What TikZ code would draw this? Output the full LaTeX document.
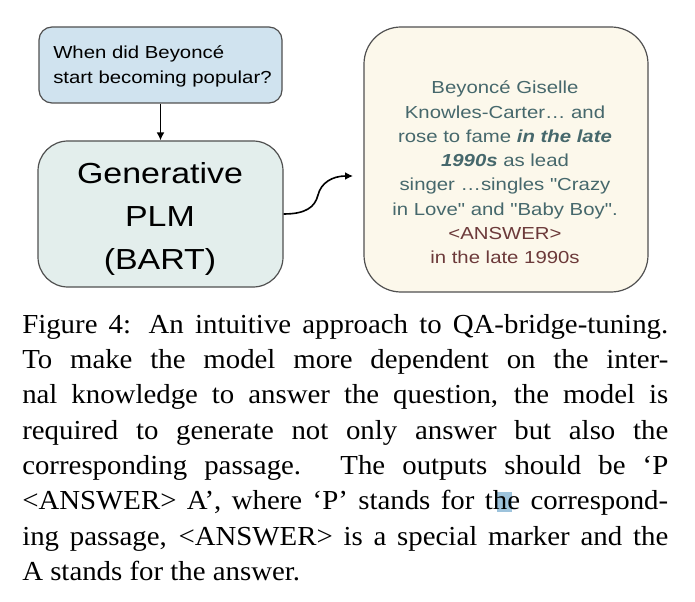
\documentclass[tikz,border=0pt]{standalone}
\usepackage{fontspec}
\setmainfont{Liberation Serif}
\newfontfamily\figfont[FakeStretch=1.17]{Liberation Sans}
\newfontfamily\capfont[FakeStretch=1.05]{Liberation Serif}
\usetikzlibrary{arrows.meta}
\newdimen\pxu \pxu=0.75pt
\definecolor{qfill}{RGB}{208,227,239}
\definecolor{gfill}{RGB}{227,238,236}
\definecolor{afill}{RGB}{252,248,235}
\definecolor{bordergray}{RGB}{80,80,80}
\definecolor{ateal}{RGB}{70,104,108}
\definecolor{abrown}{RGB}{108,58,58}
\definecolor{selblue}{RGB}{157,195,220}
\newcommand{\qfont}{\figfont\fontsize{13.05pt}{18.2pt}\selectfont}
\newcommand{\gfont}{\figfont\fontsize{21.75pt}{32.25pt}\selectfont}
\newcommand{\capsize}{\capfont\fontsize{20.6pt}{26.5pt}\selectfont}
\tikzset{
  boxshape/.style={draw=bordergray, line width=0.9pt, inner sep=0pt},
  conn/.style={line width=1.2pt, -{Latex[length=6pt,width=6pt]}},
  txt/.style={inner sep=0pt}
}
\begin{document}
\begin{tikzpicture}[x=0.75pt,y=-0.75pt]
\fill[white] (0,0) rectangle (695,602);
\useasboundingbox (0,0) rectangle (695,602);
% boxes
\node[boxshape, fill=qfill, minimum width=243\pxu, minimum height=76\pxu, rounded corners=13\pxu] (q) at (160.5,65) {};
\node[boxshape, fill=gfill, minimum width=245\pxu, minimum height=146\pxu, rounded corners=30\pxu] (g) at (160.5,214) {};
\node[boxshape, fill=afill, minimum width=284\pxu, minimum height=265\pxu, rounded corners=37\pxu] (a) at (506,159.5) {};
% connectors
\draw[conn] (q.south) -- (g.north);
\coordinate (tip) at (353,176);
\draw[conn] (g.east) .. controls (306,214) and (315,207) .. (318,195) .. controls (321,183) and (332,176) .. (tip);
% texts
\node[txt, anchor=base west] (qt) at (53,59) {\parbox[t]{260\pxu}{\qfont When did Beyoncé\\start becoming popular?}};
\node[txt, anchor=base] (gt) at (160,184) {\parbox[t]{240\pxu}{\centering\gfont Generative\\PLM\\(BART)}};
\node[txt, anchor=base] (at) at (505,81) {\parbox[t]{280\pxu}{\centering\qfont\color{ateal}Beyoncé Giselle\\Knowles-Carter… and\\rose to fame \textbf{\textit{in the late}}\\\textbf{\textit{1990s}} as lead\\singer …singles "Crazy\\in Love" and "Baby Boy".\\{\color{abrown}<ANSWER>}\\{\color{abrown}in the late 1990s}}};
% selection highlight
\fill[selblue] (497,492) rectangle (512,512);
% caption
\node[txt, anchor=base west] (cap) at (22,333) {\parbox[t]{646\pxu}{\capsize\hyphenpenalty=10000 \exhyphenpenalty=10000
Figure 4: An intuitive approach to QA-bridge-tuning.\linebreak
To make the model more dependent on the inter-\linebreak
nal knowledge to answer the question, the model is\linebreak
required to generate not only answer but also the\linebreak
corresponding passage. The outputs should be ‘P\linebreak
<ANSWER> A’, where ‘P’ stands for the correspond-\linebreak
ing passage, <ANSWER> is a special marker and the\linebreak
A stands for the answer.}};
\end{tikzpicture}
\end{document}
